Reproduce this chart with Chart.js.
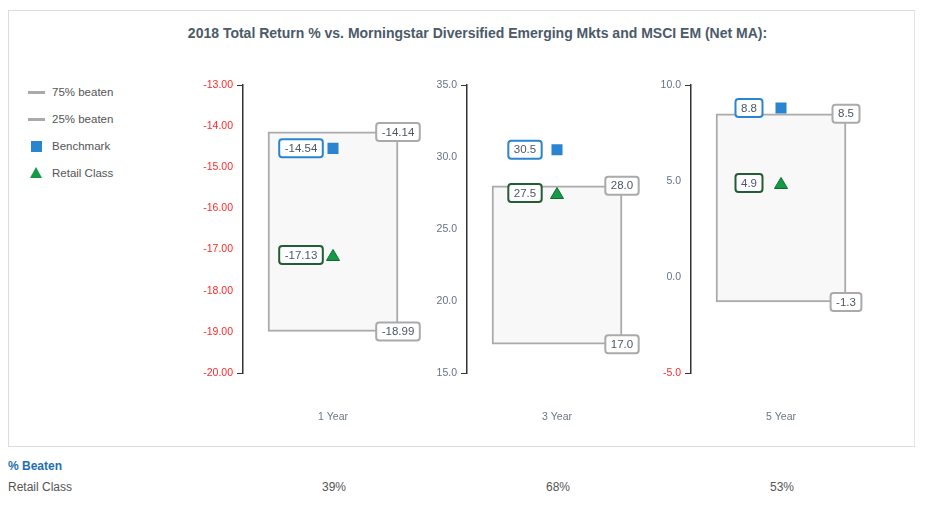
<!DOCTYPE html>
<html>
<head>
<meta charset="utf-8">
<script src="https://cdn.jsdelivr.net/npm/chart.js@4.4.1/dist/chart.umd.min.js"></script>
<style>
  body { margin: 0; background: #fff; font-family: "Liberation Sans", Arial, sans-serif; }
  #frame { position: absolute; left: 8px; top: 10px; width: 905px; height: 435px; border: 1px solid #ddd; border-right-color: #e4e4e4; }
  #title { position: absolute; left: 0; top: 25px; width: 955px; text-align: center; font-size: 14px; font-weight: bold; color: #4b5a68; }
  .panel { position: absolute; top: 60px; }
  .leg { position: absolute; left: 27px; font-size: 11.5px; color: #555; height: 14px; line-height: 14px; }
  .leg span { position: absolute; left: 25px; white-space: nowrap; }
  .line { position: absolute; left: 1px; top: 6px; width: 17px; height: 3px; background: #aaa; }
  .sq { position: absolute; left: 4px; top: 2px; width: 11px; height: 11px; background: #2a85d0; }
  .tri { position: absolute; left: 3px; top: 1px; width: 0; height: 0; border-left: 6.5px solid transparent; border-right: 6.5px solid transparent; border-bottom: 11px solid #159a47; }
  #beaten { position: absolute; left: 8px; top: 459px; font-size: 12px; font-weight: bold; color: #1f6fb0; }
  #retailRow { position: absolute; left: 8px; top: 480px; font-size: 12px; color: #555; }
  .pct { position: absolute; top: 480px; width: 60px; text-align: center; font-size: 12px; color: #555; }
</style>
</head>
<body>
<div id="frame"></div>
<div id="title">2018 Total Return % vs. Morningstar Diversified Emerging Mkts and MSCI EM (Net MA):</div>

<div class="leg" style="top:85px"><div class="line"></div><span>75% beaten</span></div>
<div class="leg" style="top:112px"><div class="line"></div><span>25% beaten</span></div>
<div class="leg" style="top:139px"><div class="sq"></div><span>Benchmark</span></div>
<div class="leg" style="top:166px"><div class="tri"></div><span>Retail Class</span></div>

<canvas id="c0" class="panel" width="250" height="380"></canvas>
<canvas id="c1" class="panel" width="250" height="380"></canvas>
<canvas id="c2" class="panel" width="250" height="380"></canvas>

<div id="beaten">% Beaten</div>
<div id="retailRow">Retail Class</div>

<script>
const categories = ["1 Year", "3 Year", "5 Year"];
const beaten75 = [-14.14, 28.0, 8.5];
const beaten25 = [-18.99, 17.0, -1.3];
const benchmark = [-14.54, 30.5, 8.8];
const retailClass = [-17.13, 27.5, 4.9];
const pctBeaten = ["39%", "68%", "53%"];
const axisMin = [-20, 15, -5];
const axisMax = [-13, 35, 10];
const axisStep = [1, 5, 5];
const decimals = [2, 1, 1];

const axisX = [243, 467, 691];
const FONT = "'Liberation Sans', Arial, sans-serif";
Chart.defaults.font.family = FONT;

// triangle marker as an image so it sits centred on its value
const triImg = document.createElement("canvas");
triImg.width = 14;
triImg.height = 12;
(function () {
  const t = triImg.getContext("2d");
  t.beginPath();
  t.moveTo(7, 0.5);
  t.lineTo(13.5, 11.5);
  t.lineTo(0.5, 11.5);
  t.closePath();
  t.fillStyle = "#159a47";
  t.fill();
  t.strokeStyle = "#0e6e31";
  t.lineWidth = 1;
  t.stroke();
})();

function drawTag(ctx, text, cx, cy, border) {
  ctx.font = "11.5px " + FONT;
  const w = ctx.measureText(text).width + 11;
  const h = 18;
  ctx.beginPath();
  ctx.roundRect(cx - w / 2, cy - h / 2, w, h, 3);
  ctx.fillStyle = "#fff";
  ctx.fill();
  ctx.lineWidth = 2;
  ctx.strokeStyle = border;
  ctx.stroke();
  ctx.fillStyle = "#4a5866";
  ctx.textAlign = "center";
  ctx.textBaseline = "middle";
  ctx.fillText(text, cx, cy + 0.5);
}

const tagPlugin = {
  id: "tags",
  afterDatasetsDraw(chart) {
    const ctx = chart.ctx;
    const i = chart.options.panelIndex;
    const dec = decimals[i];
    const y = chart.scales.y;
    const bar = chart.getDatasetMeta(0).data[0];
    const right = bar.x + bar.width / 2;
    ctx.save();
    drawTag(ctx, beaten75[i].toFixed(dec), right, y.getPixelForValue(beaten75[i]), "#aaa");
    drawTag(ctx, beaten25[i].toFixed(dec), right, y.getPixelForValue(beaten25[i]), "#aaa");
    const b = chart.getDatasetMeta(1).data[0];
    drawTag(ctx, benchmark[i].toFixed(dec), b.x - 32, b.y, "#2a85d0");
    const r = chart.getDatasetMeta(2).data[0];
    drawTag(ctx, retailClass[i].toFixed(dec), r.x - 32, r.y, "#245c34");
    ctx.restore();
  }
};

categories.forEach((cat, i) => {
  const canvas = document.getElementById("c" + i);
  canvas.style.left = (axisX[i] - 62) + "px";

  new Chart(canvas, {
    data: {
      labels: [cat],
      datasets: [
        {
          type: "bar",
          order: 5,
          data: [[beaten25[i], beaten75[i]]],
          backgroundColor: "#f8f8f8",
          borderColor: "#aaa",
          borderWidth: 2,
          borderSkipped: false,
          barThickness: 130
        },
        {
          type: "line",
          order: 1,
          data: [benchmark[i]],
          showLine: false,
          pointStyle: "rect",
          pointRadius: 7.8,
          pointBackgroundColor: "#2a85d0",
          pointBorderColor: "#2a85d0",
          pointBorderWidth: 0
        },
        {
          type: "line",
          order: 2,
          data: [retailClass[i]],
          showLine: false,
          pointStyle: triImg,
          pointRadius: 7
        }
      ]
    },
    options: {
      panelIndex: i,
      responsive: false,
      animation: false,
      layout: { padding: { top: 25, right: 2, bottom: 0, left: 0 } },
      plugins: { legend: { display: false }, tooltip: { enabled: false } },
      scales: {
        x: {
          type: "category",
          offset: true,
          afterFit(scale) { scale.height = 67; },
          grid: { display: false, drawTicks: false },
          border: { display: false },
          ticks: { padding: 38, color: "#6b7682", font: { size: 10.5 } }
        },
        y: {
          min: axisMin[i],
          max: axisMax[i],
          afterFit(scale) { scale.width = 62; },
          border: { display: true, color: "#333", width: 1.5 },
          grid: {
            drawOnChartArea: false,
            drawTicks: true,
            tickLength: 6,
            color: c => (c.tick && (c.tick.value === axisMin[i] || c.tick.value === axisMax[i])) ? "#333" : "rgba(0,0,0,0)"
          },
          ticks: {
            stepSize: axisStep[i],
            padding: 4,
            font: { size: 10.5 },
            color: c => c.tick.value < 0 ? "#ff2a2a" : "#647384",
            callback: v => Number(v).toFixed(decimals[i])
          }
        }
      }
    },
    plugins: [tagPlugin]
  });

  const p = document.createElement("div");
  p.className = "pct";
  p.style.left = (axisX[i] + 91 - 30) + "px";
  p.textContent = pctBeaten[i];
  document.body.appendChild(p);
});
</script>
</body>
</html>
